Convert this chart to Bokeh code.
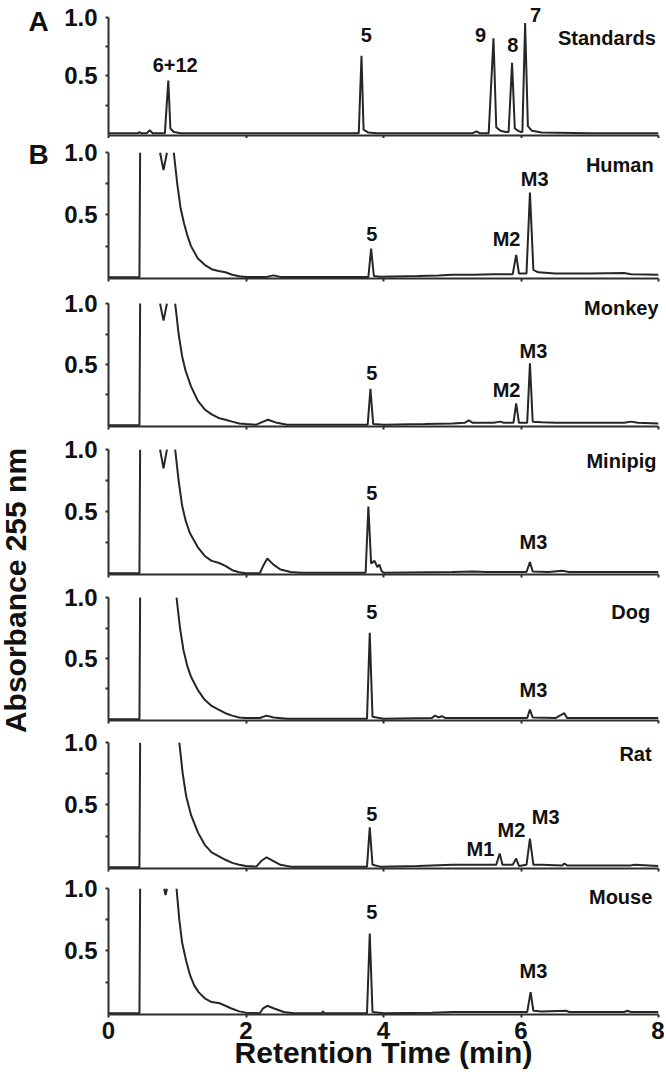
import math
from bokeh.plotting import figure
from bokeh.models import Range1d, FixedTicker, Label, NumeralTickFormatter
from bokeh.layouts import row, column
from bokeh.embed import file_html
from bokeh.resources import INLINE

nan = float("nan")  # off-scale (above 1.0) parts of a trace are left out

# ---------------- data (retention time in min, absorbance at 255 nm) ----------------
std_t = [0.0, 0.40, 0.43, 0.45, 0.47, 0.56, 0.60, 0.64, 0.82, 0.87, 0.90, 0.95, 1.05, 2.0, 3.0,
         3.64, 3.68, 3.71, 3.78, 3.9, 5.0, 5.30, 5.35, 5.40, 5.53, 5.60, 5.64, 5.70, 5.78,
         5.82, 5.87, 5.91, 5.96, 6.00, 6.02, 6.06, 6.10, 6.16, 6.30, 7.0, 8.0]
std_a = [0.01, 0.01, 0.01, 0.02, 0.01, 0.01, 0.035, 0.01, 0.01, 0.46, 0.05, 0.02, 0.01, 0.01, 0.01,
         0.01, 0.67, 0.04, 0.015, 0.01, 0.01, 0.01, 0.025, 0.01, 0.01, 0.82, 0.06, 0.03, 0.02,
         0.02, 0.61, 0.05, 0.03, 0.02, 0.02, 0.95, 0.07, 0.03, 0.015, 0.01, 0.01]

human_t = [0.0, 0.45, 0.46, 0.6, 0.75, 0.80, 0.85, 0.9, 0.95, 1.0, 1.05, 1.1, 1.15, 1.2,
           1.3, 1.4, 1.5, 1.6, 1.7, 1.8, 1.9, 2.0, 2.3, 2.4, 2.5, 3.0, 3.78, 3.82, 3.86, 3.95,
           4.5, 4.8, 5.0, 5.3, 5.6, 5.88, 5.93, 5.97, 6.08, 6.13, 6.18, 6.25, 6.5, 7.0, 7.5, 7.6, 8.0]
human_a = [0.0, 0.0, 1.0, nan, 1.0, 0.86, 1.0, nan, 1.0, 0.75, 0.55, 0.43, 0.33, 0.25,
           0.15, 0.10, 0.065, 0.05, 0.04, 0.02, 0.008, 0.003, 0.003, 0.015, 0.003, 0.003, 0.003, 0.23, 0.01, 0.005,
           0.01, 0.015, 0.02, 0.02, 0.025, 0.025, 0.18, 0.03, 0.03, 0.68, 0.06, 0.04, 0.03, 0.03, 0.035, 0.025, 0.02]

monkey_t = [0.0, 0.45, 0.46, 0.6, 0.75, 0.80, 0.85, 0.9, 0.97, 1.02, 1.07, 1.12, 1.2,
            1.3, 1.4, 1.5, 1.6, 1.7, 1.8, 1.9, 2.0, 2.15, 2.25, 2.32, 2.45, 2.6, 3.0,
            3.77, 3.81, 3.85, 4.0, 4.6, 5.0, 5.18, 5.24, 5.3, 5.6, 5.7, 5.75, 5.89, 5.93, 5.97,
            6.09, 6.13, 6.17, 6.3, 6.5, 7.5, 7.6, 7.7, 8.0]
monkey_a = [0.0, 0.0, 1.0, nan, 1.0, 0.86, 1.0, nan, 1.0, 0.75, 0.57, 0.45, 0.32,
            0.20, 0.13, 0.09, 0.06, 0.045, 0.03, 0.015, 0.01, 0.005, 0.03, 0.045, 0.02, 0.005, 0.005,
            0.005, 0.30, 0.01, 0.005, 0.01, 0.015, 0.02, 0.04, 0.02, 0.02, 0.03, 0.02, 0.02, 0.18, 0.02,
            0.02, 0.51, 0.03, 0.025, 0.02, 0.02, 0.03, 0.02, 0.015]

minipig_t = [0.0, 0.45, 0.46, 0.6, 0.75, 0.80, 0.85, 0.9, 0.97, 1.02, 1.07, 1.12, 1.18,
             1.24, 1.3, 1.4, 1.5, 1.6, 1.7, 1.8, 1.9, 2.0, 2.2, 2.25, 2.31, 2.4, 2.5, 2.65, 2.8,
             3.74, 3.78, 3.82, 3.87, 3.91, 3.94, 3.97, 4.0, 5.0, 5.3, 5.5, 6.08, 6.13, 6.17,
             6.4, 6.6, 6.7, 8.0]
minipig_a = [0.0, 0.0, 1.0, nan, 1.0, 0.85, 1.0, nan, 1.0, 0.75, 0.55, 0.43, 0.33,
             0.27, 0.21, 0.14, 0.10, 0.085, 0.06, 0.025, 0.008, 0.0, 0.0, 0.06, 0.12, 0.07, 0.03, 0.01, 0.005,
             0.005, 0.54, 0.08, 0.10, 0.05, 0.07, 0.02, 0.005, 0.01, 0.015, 0.01, 0.01, 0.09, 0.015,
             0.01, 0.02, 0.01, 0.01]

dog_t = [0.0, 0.45, 0.46, 0.7, 0.99, 1.04, 1.09, 1.15, 1.2, 1.3, 1.4, 1.5, 1.6, 1.7, 1.8,
         1.9, 2.0, 2.2, 2.3, 2.4, 2.6, 3.76, 3.80, 3.84, 4.0, 4.7, 4.75, 4.8, 4.85, 4.9, 5.5,
         6.09, 6.13, 6.17, 6.5, 6.63, 6.67, 8.0]
dog_a = [0.0, 0.0, 1.0, nan, 1.0, 0.75, 0.57, 0.43, 0.35, 0.24, 0.16, 0.11, 0.08, 0.05, 0.03,
         0.015, 0.01, 0.01, 0.03, 0.015, 0.005, 0.005, 0.71, 0.02, 0.005, 0.01, 0.03, 0.015, 0.025, 0.01, 0.01,
         0.01, 0.08, 0.015, 0.01, 0.05, 0.01, 0.01]

rat_t = [0.0, 0.45, 0.46, 0.7, 1.03, 1.08, 1.13, 1.2, 1.3, 1.4, 1.5, 1.6, 1.7, 1.8, 1.9, 2.0,
         2.15, 2.22, 2.3, 2.4, 2.5, 2.65, 3.76, 3.80, 3.84, 3.95, 4.5, 5.0, 5.4, 5.64, 5.69,
         5.73, 5.88, 5.93, 5.97, 6.08, 6.13, 6.18, 6.3, 6.6, 6.63, 6.67, 7.6, 7.65, 8.0]
rat_a = [0.0, 0.0, 1.0, nan, 1.0, 0.75, 0.57, 0.42, 0.28, 0.18, 0.12, 0.09, 0.06, 0.035, 0.02, 0.01,
         0.005, 0.05, 0.08, 0.05, 0.02, 0.005, 0.005, 0.32, 0.02, 0.005, 0.01, 0.02, 0.02, 0.02, 0.11,
         0.02, 0.02, 0.07, 0.01, 0.02, 0.23, 0.02, 0.02, 0.015, 0.03, 0.015, 0.015, 0.02, 0.01]

mouse_t = [0.0, 0.45, 0.46, 0.6, 0.81, 0.83, 0.85, 0.9, 0.99, 1.03, 1.07, 1.13, 1.19,
           1.25, 1.31, 1.4, 1.5, 1.62, 1.7, 1.78, 1.9, 2.0, 2.2, 2.25, 2.31, 2.4, 2.55, 2.7,
           3.1, 3.12, 3.14, 3.76, 3.80, 3.84, 4.0, 4.7, 5.0, 5.5, 6.09, 6.14, 6.18, 6.3, 6.66,
           6.7, 7.5, 7.55, 7.6, 8.0]
mouse_a = [0.0, 0.0, 1.0, nan, 1.0, 0.95, 1.0, nan, 1.0, 0.75, 0.57, 0.42, 0.30,
           0.22, 0.17, 0.12, 0.09, 0.08, 0.06, 0.04, 0.015, 0.005, 0.0, 0.04, 0.06, 0.04, 0.01, 0.0,
           0.0, 0.015, 0.0, 0.0, 0.64, 0.01, 0.0, 0.005, 0.01, 0.01, 0.01, 0.17, 0.02, 0.015, 0.02,
           0.01, 0.01, 0.02, 0.01, 0.01]

x_ticks = [0, 2, 4, 6, 8]
y_ticks = [0.5, 1.0]
y_minor = [0.25, 0.75]

# ---------------- annotations (text, x, y) ----------------
std_labels = [("6+12", 0.97, 0.59), ("5", 3.75, 0.85), ("9", 5.41, 0.85), ("8", 5.88, 0.76), ("7", 6.21, 1.02)]
human_labels = [("5", 3.83, 0.35), ("M2", 5.79, 0.31), ("M3", 6.20, 0.79)]
monkey_labels = [("5", 3.83, 0.43), ("M2", 5.79, 0.29), ("M3", 6.18, 0.61)]
minipig_labels = [("5", 3.83, 0.65), ("M3", 6.18, 0.25)]
dog_labels = [("5", 3.83, 0.88), ("M3", 6.18, 0.24)]
rat_labels = [("5", 3.83, 0.43), ("M1", 5.41, 0.15), ("M2", 5.86, 0.30), ("M3", 6.36, 0.40)]
mouse_labels = [("5", 3.83, 0.81), ("M3", 6.18, 0.34)]

FONT = "Liberation Sans"
TRACE = "#262626"
AXIS = "#2e2e2e"
TXT = "#111111"
PAGE_H = 1078
STRIP_W = 55

# (name, t, a, peak labels, species label pos, page y of 1.0, page y of 0, y max, fig top, fig bottom)
panels = [
    ("Standards", std_t, std_a, std_labels, (7.96, 0.82), 17, 134, 1.10, 0, 138),
    ("Human", human_t, human_a, human_labels, (7.93, 0.90), 152, 277, 1.05, 138, 288),
    ("Monkey", monkey_t, monkey_a, monkey_labels, (8.0, 0.96), 303, 425, 1.05, 288, 436),
    ("Minipig", minipig_t, minipig_a, minipig_labels, (7.97, 0.91), 449, 573, 1.05, 436, 582),
    ("Dog", dog_t, dog_a, dog_labels, (7.88, 0.88), 597, 719, 1.05, 582, 729),
    ("Rat", rat_t, rat_a, rat_labels, (7.90, 0.91), 742, 867, 1.05, 729, 875),
    ("Mouse", mouse_t, mouse_a, mouse_labels, (7.91, 0.93), 888, 1013, 1.05, 875, PAGE_H),
]

YMIN = -0.01
figs = []
for i, (name, t, a, labs, spos, y1, y0, ymax, fs, fe) in enumerate(panels):
    last = i == len(panels) - 1
    k = float(y0 - y1)
    ft = y1 - (ymax - 1.0) * k
    fb = y0 - YMIN * k
    top = int(round(ft - fs))
    fh = int(round(fb - ft))
    bot = (fe - fs) - top - fh
    p = figure(width=609, height=fe - fs,
               x_range=Range1d(0, 8), y_range=Range1d(YMIN, ymax),
               output_backend="svg", toolbar_location=None, title=None,
               min_border_left=53, min_border_right=6,
               min_border_top=top, min_border_bottom=bot)
    p.outline_line_color = None
    p.grid.visible = False
    p.line(t, a, line_color=TRACE, line_width=2)

    ya = p.yaxis[0]
    ya.ticker = FixedTicker(ticks=y_ticks, minor_ticks=y_minor)
    ya.formatter = NumeralTickFormatter(format="0.0")
    ya.bounds = (YMIN, 1.0)
    ya.axis_line_color = AXIS
    ya.axis_line_width = 2
    ya.major_tick_line_color = AXIS
    ya.major_tick_line_width = 2
    ya.minor_tick_line_color = AXIS
    ya.minor_tick_line_width = 2
    ya.major_tick_in = 0
    ya.major_tick_out = 3
    ya.minor_tick_in = 0
    ya.minor_tick_out = 3
    ya.major_label_standoff = 8
    ya.major_label_text_font = FONT
    ya.major_label_text_font_size = "24px"
    ya.major_label_text_font_style = "bold"
    ya.major_label_text_color = TXT

    xa = p.xaxis[0]
    xa.axis_line_color = AXIS
    xa.axis_line_width = 2
    xa.major_tick_line_color = AXIS
    xa.major_tick_line_width = 2
    xa.minor_tick_line_color = AXIS
    xa.minor_tick_line_width = 2
    xa.major_tick_in = 0
    xa.major_tick_out = 3
    xa.minor_tick_in = 0
    xa.minor_tick_out = 3
    if last:
        xa.ticker = FixedTicker(ticks=x_ticks, minor_ticks=[])
        xa.major_label_standoff = 4
        xa.major_label_text_font = FONT
        xa.major_label_text_font_size = "24px"
        xa.major_label_text_font_style = "bold"
        xa.major_label_text_color = TXT
        xa.axis_label = "Retention Time (min)"
        xa.axis_label_standoff = -6
        xa.axis_label_text_font = FONT
        xa.axis_label_text_font_size = "30px"
        xa.axis_label_text_font_style = "bold"
        xa.axis_label_text_color = TXT
    else:
        # tick marks only, no tick labels
        xa.ticker = FixedTicker(ticks=[], minor_ticks=x_ticks)
        xa.major_label_standoff = 0

    for txt, lx, ly in labs:
        p.add_layout(Label(x=lx, y=ly, text=txt, text_align="center", text_baseline="middle",
                           text_font=FONT, text_font_size="20px", text_font_style="bold",
                           text_color=TXT))
    p.add_layout(Label(x=spos[0], y=spos[1], text=name, text_align="right", text_baseline="middle",
                       text_font=FONT, text_font_size="20px", text_font_style="bold",
                       text_color=TXT))
    figs.append(p)

# left strip: panel letters and the shared y-axis title (positions in page pixels)
strip = figure(width=STRIP_W, height=PAGE_H, x_range=Range1d(0, STRIP_W), y_range=Range1d(PAGE_H, 0),
               output_backend="svg", toolbar_location=None, title=None,
               x_axis_location=None, y_axis_location=None, min_border=0)
strip.outline_line_color = None
strip.grid.visible = False
for letter, ly in [("A", 21), ("B", 154)]:
    strip.add_layout(Label(x=38, y=ly, text=letter, text_align="center", text_baseline="middle",
                           text_font=FONT, text_font_size="28px", text_font_style="bold",
                           text_color=TXT))
strip.add_layout(Label(x=15, y=590, text="Absorbance 255 nm", angle=math.pi / 2,
                       text_align="center", text_baseline="middle",
                       text_font=FONT, text_font_size="30px", text_font_style="bold",
                       text_color=TXT))

layout = row(strip, column(*figs, spacing=0), spacing=0)
open("out.html", "w").write(file_html(layout, INLINE))
